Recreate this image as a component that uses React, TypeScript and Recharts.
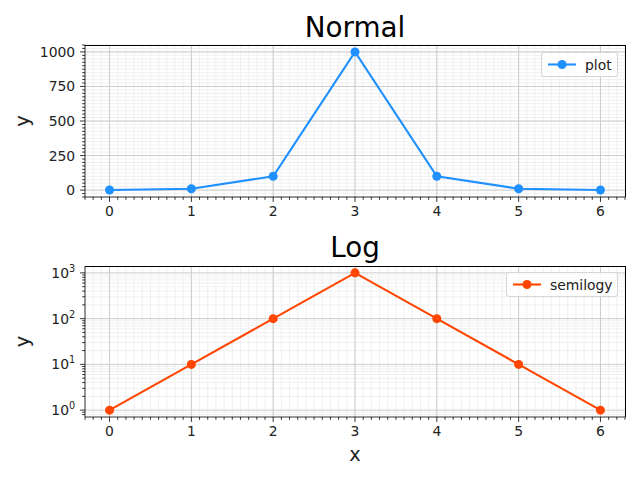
import React from "react";
import {
  LineChart,
  Line,
  XAxis,
  YAxis,
  CartesianGrid,
} from "recharts";

const xValues = [0, 1, 2, 3, 4, 5, 6];
const yValues = [1, 10, 100, 1000, 100, 10, 1];

const xMajorTicks = [0, 1, 2, 3, 4, 5, 6];
const linMajorTicks = [0, 250, 500, 750, 1000];
const logMajorTicks = [1, 10, 100, 1000];
const logMinorTicks = [
  0.8, 0.9, 2, 3, 4, 5, 6, 7, 8, 9, 20, 30, 40, 50, 60, 70, 80, 90, 200, 300,
  400, 500, 600, 700, 800, 900,
];

// minor tick positions (every 0.1 on x, every 25 on the linear y)
const xMinorTicks = Array.from({ length: 67 }, (_, i) => (i - 3) / 10);
const linMinorTicks = Array.from({ length: 45 }, (_, i) => -50 + i * 25);

const data = xValues.map((x, i) => ({ x, plot: yValues[i], semilogy: yValues[i] }));

const FONT = "DejaVu Sans, sans-serif";
const TEXT = "#222";
const BLUE = "#1E90FF";
const RED = "#FF4500";
const SPINE = { stroke: "#000", strokeWidth: 0.8 };

const isMajor = (v: number, majors: number[]) =>
  majors.some((m) => Math.abs(m - v) < 1e-6);

const XTick = (props: any) => {
  const { x, y, payload } = props;
  const major = isMajor(payload.value, xMajorTicks);
  return (
    <g>
      <line x1={x} x2={x} y1={y} y2={y + (major ? 4.9 : 2.8)} stroke="#000" strokeWidth={0.8} />
      {major && (
        <text x={x} y={y + 19} textAnchor="middle" fontSize={13.9} fill={TEXT} fontFamily={FONT}>
          {payload.value}
        </text>
      )}
    </g>
  );
};

const LinYTick = (props: any) => {
  const { x, y, payload } = props;
  const major = isMajor(payload.value, linMajorTicks);
  return (
    <g>
      <line x1={x} x2={x - (major ? 4.9 : 2.8)} y1={y} y2={y} stroke="#000" strokeWidth={0.8} />
      {major && (
        <text x={x - 9.8} y={y + 5} textAnchor="end" fontSize={13.9} fill={TEXT} fontFamily={FONT}>
          {payload.value}
        </text>
      )}
    </g>
  );
};

const LogYTick = (props: any) => {
  const { x, y, payload } = props;
  const major = isMajor(payload.value, logMajorTicks);
  const exp = Math.round(Math.log10(payload.value));
  return (
    <g>
      <line x1={x} x2={x - (major ? 4.9 : 2.8)} y1={y} y2={y} stroke="#000" strokeWidth={0.8} />
      {major && (
        <text x={x - 9.8} y={y + 5} textAnchor="end" fontSize={13.9} fill={TEXT} fontFamily={FONT}>
          10
          <tspan dy={-6} fontSize={9.7}>
            {exp}
          </tspan>
        </text>
      )}
    </g>
  );
};

const LegendBox = (props: any) => {
  const { label, color, left, top, width } = props;
  return (
    <div
      style={{
        position: "absolute",
        left,
        top,
        width,
        height: 25,
        boxSizing: "border-box",
        border: "1px solid #d6d6d6",
        borderRadius: 3,
        background: "rgba(255,255,255,0.8)",
        display: "flex",
        alignItems: "center",
        fontFamily: FONT,
        fontSize: 13.9,
        color: TEXT,
      }}
    >
      <svg width={40} height={23}>
        <line x1={6} x2={34} y1={11.5} y2={11.5} stroke={color} strokeWidth={2.1} />
        <circle cx={20} cy={11.5} r={4.5} fill={color} />
      </svg>
      <span style={{ marginLeft: 3 }}>{label}</span>
    </div>
  );
};

// top and right spines of an axes box
const Frame = (props: any) => (
  <div
    style={{
      position: "absolute",
      left: 85,
      top: props.top - 0.5,
      width: 540.5,
      height: props.height,
      boxSizing: "border-box",
      borderTop: "1px solid #000",
      borderRight: "1px solid #000",
      pointerEvents: "none",
    }}
  />
);

const titleStyle: React.CSSProperties = {
  position: "absolute",
  left: 85,
  width: 540,
  textAlign: "center",
  fontFamily: FONT,
  fontSize: 27.8,
  color: "#000",
  lineHeight: "28px",
};

const yLabel = {
  value: "y",
  angle: -90,
  position: "insideLeft" as const,
  offset: -3,
  style: { fontSize: 19.4, fontFamily: FONT, fill: TEXT, textAnchor: "middle" as const },
};

export default function App() {
  return (
    <div style={{ position: "absolute", left: 0, top: 0, width: 640, height: 480, background: "#fff" }}>
      <div style={{ ...titleStyle, top: 14 }}>Normal</div>
      <div style={{ ...titleStyle, top: 234 }}>Log</div>

      <div style={{ position: "absolute", left: 0, top: 0 }}>
        <LineChart width={640} height={240} data={data} margin={{ top: 45, right: 15, left: 25, bottom: 13 }}>
          <CartesianGrid stroke="#f0f0f0" verticalValues={xMinorTicks} horizontalValues={linMinorTicks} />
          <CartesianGrid stroke="#cccccc" verticalValues={xMajorTicks} horizontalValues={linMajorTicks} />
          <XAxis
            dataKey="x"
            type="number"
            domain={[-0.3, 6.3]}
            ticks={xMinorTicks}
            interval={0}
            tickLine={false}
            tickSize={0}
            tickMargin={0}
            tick={<XTick />}
            height={30}
            axisLine={SPINE}
          />
          <YAxis
            type="number"
            domain={[-49.95, 1049.95]}
            ticks={linMinorTicks}
            interval={0}
            tickLine={false}
            tickSize={0}
            tickMargin={0}
            tick={<LinYTick />}
            width={60}
            allowDataOverflow
            axisLine={SPINE}
            label={yLabel}
          />
          <Line
            dataKey="plot"
            stroke={BLUE}
            strokeWidth={2.1}
            dot={{ r: 4.5, fill: BLUE, stroke: BLUE, strokeWidth: 0 }}
            activeDot={false}
            isAnimationActive={false}
          />
        </LineChart>
      </div>

      <div style={{ position: "absolute", left: 0, top: 240 }}>
        <LineChart width={640} height={240} data={data} margin={{ top: 26, right: 15, left: 25, bottom: 13 }}>
          <CartesianGrid stroke="#f0f0f0" verticalValues={xMinorTicks} horizontalValues={logMinorTicks} />
          <CartesianGrid stroke="#cccccc" verticalValues={xMajorTicks} horizontalValues={logMajorTicks} />
          <XAxis
            dataKey="x"
            type="number"
            domain={[-0.3, 6.3]}
            ticks={xMinorTicks}
            interval={0}
            tickLine={false}
            tickSize={0}
            tickMargin={0}
            tick={<XTick />}
            height={50}
            axisLine={SPINE}
            label={{ value: "x", position: "insideBottom", offset: 6, style: { fontSize: 19.4, fontFamily: FONT, fill: TEXT } }}
          />
          <YAxis
            type="number"
            scale="log"
            domain={[0.708, 1413]}
            ticks={[...logMinorTicks, ...logMajorTicks]}
            interval={0}
            tickLine={false}
            tickSize={0}
            tickMargin={0}
            tick={<LogYTick />}
            width={60}
            allowDataOverflow
            axisLine={SPINE}
            label={yLabel}
          />
          <Line
            dataKey="semilogy"
            stroke={RED}
            strokeWidth={2.1}
            dot={{ r: 4.5, fill: RED, stroke: RED, strokeWidth: 0 }}
            activeDot={false}
            isAnimationActive={false}
          />
        </LineChart>
      </div>

      <Frame top={45} height={152} />
      <Frame top={266} height={151} />
      <LegendBox label="plot" color={BLUE} left={541} top={52} width={77} />
      <LegendBox label="semilogy" color={RED} left={506} top={272} width={112} />
    </div>
  );
}
